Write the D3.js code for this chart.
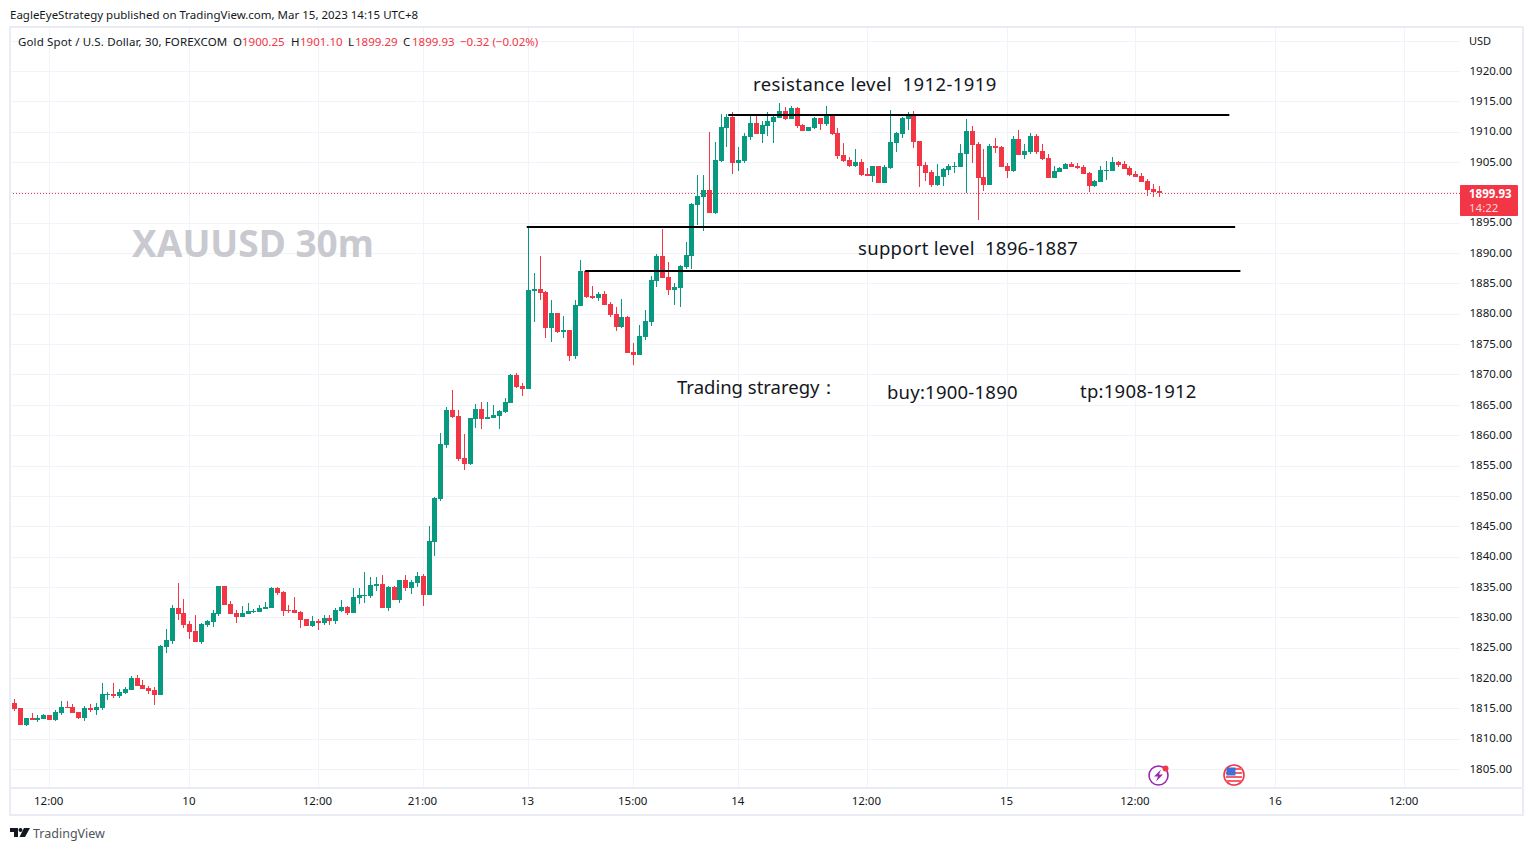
<!DOCTYPE html>
<html>
<head>
<meta charset="utf-8">
<title>XAUUSD 30m</title>
<script src="https://cdn.jsdelivr.net/npm/d3@7"></script>
<style>
    html, body { margin: 0; padding: 0; background: #fff; }
    svg { display: block; }
    text { font-family: "Noto Sans", sans-serif; }
</style>
</head>
<body>
<div id="chartSection"></div>
<script>
const opens = [
    1815.88,1815.06,1812.26,1813.41,1813.08,1813.25,1813.90,1813.08,1814.23,1815.22,
    1815.22,1814.40,1813.41,1815.06,1814.73,1815.06,1817.20,1817.36,1817.03,1817.53,
    1818.02,1820.00,1818.85,1818.35,1818.02,1817.20,1825.11,1826.10,1831.53,1830.71,
    1828.90,1827.74,1825.93,1828.73,1829.23,1830.54,1835.16,1832.19,1830.71,1830.05,
    1830.54,1830.87,1830.87,1831.37,1831.53,1834.83,1834.17,1831.20,1831.20,1830.87,
    1829.72,1828.57,1829.39,1829.06,1829.89,1829.39,1831.04,1831.70,1830.71,1833.18,
    1833.51,1833.51,1835.16,1835.49,1831.53,1834.99,1832.85,1836.15,1834.83,1835.65,
    1836.80,1833.67,1842.40,1849.49,1858.38,1864.15,1863.16,1856.24,1855.25,1862.67,
    1864.31,1862.67,1862.83,1863.16,1863.82,1865.30,1869.91,1868.10,1867.61,1883.75,
    1884.08,1883.59,1877.66,1880.13,1877.00,1877.33,1873.04,1881.28,1887.05,1882.93,
    1882.60,1883.26,1881.61,1879.96,1877.82,1879.47,1873.70,1873.21,1876.18,1878.65,
    1885.40,1889.52,1886.06,1883.92,1884.25,1887.71,1889.52,1897.93,1899.25,1900.40,
    1896.61,1905.18,1910.61,1912.43,1904.85,1905.18,1909.13,1911.44,1909.62,1910.94,
    1911.60,1912.26,1913.41,1912.10,1913.91,1911.11,1910.12,1910.61,1912.26,1911.27,
    1912.59,1909.79,1906.17,1905.34,1904.35,1905.01,1903.04,1902.71,1904.35,1901.55,
    1904.02,1908.14,1909.62,1912.09,1912.75,1908.47,1904.51,1903.36,1901.22,1902.53,
    1903.69,1904.18,1904.18,1906.32,1910.11,1907.97,1902.53,1901.22,1907.64,1907.48,
    1904.35,1903.52,1908.80,1906.16,1906.65,1909.29,1906.82,1905.67,1902.37,1903.36,
    1903.85,1904.68,1904.35,1904.18,1903.19,1901.05,1901.71,1903.52,1903.52,1905.01,
    1904.68,1904.02,1903.03,1902.70,1901.88,1900.56,1900.25
];
const highs = [
    1816.54,1815.06,1813.41,1814.23,1813.90,1814.07,1813.90,1814.73,1816.21,1816.21,
    1815.72,1814.40,1815.39,1815.72,1815.88,1819.18,1817.69,1819.18,1818.19,1818.52,
    1820.33,1820.49,1819.67,1818.68,1818.52,1825.44,1828.07,1832.03,1835.65,1833.01,
    1829.39,1830.38,1829.06,1829.56,1831.20,1835.16,1835.16,1832.69,1831.20,1831.86,
    1832.36,1831.37,1832.03,1832.52,1834.99,1834.99,1834.33,1832.03,1833.34,1831.04,
    1829.72,1830.21,1829.72,1830.38,1830.38,1831.53,1832.85,1831.86,1834.83,1834.83,
    1837.46,1836.64,1836.64,1836.97,1835.16,1835.16,1836.15,1836.97,1836.15,1837.46,
    1837.13,1845.04,1849.82,1860.36,1864.64,1867.44,1864.15,1860.19,1862.83,1865.14,
    1865.47,1865.47,1864.97,1864.15,1866.13,1870.08,1870.24,1868.60,1894.46,1886.72,
    1889.52,1883.75,1882.27,1880.13,1879.63,1877.33,1882.27,1888.86,1887.21,1884.58,
    1883.59,1883.75,1881.94,1881.12,1882.44,1879.63,1875.19,1878.15,1880.62,1886.22,
    1889.85,1893.97,1888.53,1885.07,1888.04,1891.83,1898.25,1902.87,1902.87,1909.95,
    1908.31,1912.92,1912.92,1913.25,1907.48,1909.79,1912.59,1912.59,1911.77,1913.25,
    1912.76,1914.73,1914.07,1914.24,1914.07,1911.27,1910.78,1912.43,1912.26,1914.24,
    1912.76,1910.61,1908.14,1905.84,1907.15,1905.51,1904.02,1904.35,1904.35,1904.52,
    1913.58,1909.95,1912.43,1913.24,1913.41,1908.47,1905.01,1903.69,1904.68,1904.02,
    1904.68,1905.01,1907.97,1912.09,1910.94,1908.30,1907.15,1907.97,1908.96,1907.64,
    1904.84,1909.29,1910.28,1907.97,1909.78,1909.62,1907.97,1906.32,1904.35,1904.18,
    1904.84,1905.01,1904.84,1904.51,1903.36,1902.04,1904.35,1905.17,1905.83,1905.17,
    1905.17,1904.35,1903.52,1903.19,1902.20,1901.38,1901.10
];
const lows = [
    1814.56,1812.26,1812.09,1813.08,1812.75,1813.25,1813.08,1812.92,1813.90,1815.06,
    1814.23,1813.25,1812.92,1814.40,1813.90,1814.73,1816.38,1816.71,1816.71,1817.36,
    1818.02,1818.68,1818.19,1817.36,1815.55,1817.20,1824.12,1825.60,1829.56,1828.24,
    1826.43,1825.93,1825.60,1828.40,1828.40,1830.21,1832.03,1830.54,1829.06,1830.05,
    1830.54,1830.71,1830.87,1831.37,1831.53,1833.67,1830.21,1830.71,1830.71,1828.24,
    1828.57,1828.40,1827.91,1828.73,1828.73,1828.90,1830.87,1830.38,1830.71,1832.19,
    1832.36,1833.18,1834.33,1831.53,1831.04,1832.85,1832.36,1834.33,1833.84,1834.99,
    1831.86,1833.67,1840.10,1849.16,1857.89,1862.83,1855.75,1854.26,1855.09,1861.18,
    1861.02,1862.67,1862.83,1861.02,1863.65,1865.30,1867.77,1866.45,1867.61,1878.65,
    1882.27,1876.01,1875.35,1876.83,1876.01,1872.22,1872.55,1881.28,1882.60,1882.44,
    1882.11,1881.45,1879.47,1877.16,1877.66,1873.54,1871.56,1873.21,1875.68,1877.99,
    1884.41,1885.89,1883.09,1881.45,1881.12,1887.38,1887.38,1894.63,1893.64,1896.61,
    1896.45,1905.01,1907.48,1903.04,1903.53,1904.85,1908.64,1909.62,1908.14,1909.30,
    1908.14,1912.26,1911.93,1912.10,1910.61,1910.12,1910.12,1910.45,1910.28,1910.94,
    1909.46,1905.51,1905.01,1904.19,1904.19,1902.71,1902.71,1901.72,1901.55,1901.55,
    1903.86,1906.66,1908.97,1910.28,1907.31,1900.89,1901.88,1900.89,1901.05,1901.05,
    1902.86,1903.19,1904.18,1899.90,1904.84,1895.45,1900.23,1901.22,1906.49,1904.18,
    1902.37,1903.36,1906.16,1905.50,1906.32,1906.32,1905.34,1902.37,1902.37,1903.36,
    1903.85,1904.18,1903.85,1903.03,1900.06,1900.89,1901.71,1902.04,1903.52,1904.18,
    1903.85,1902.70,1902.53,1901.71,1899.40,1899.24,1899.29
];
const closes = [
    1814.89,1812.26,1813.41,1813.08,1813.41,1813.90,1813.08,1814.40,1815.22,1815.06,
    1814.23,1813.41,1815.06,1814.73,1815.22,1817.36,1817.36,1817.03,1817.69,1818.19,
    1820.00,1818.68,1818.19,1817.86,1817.20,1825.27,1826.26,1831.53,1830.54,1828.73,
    1827.58,1825.93,1828.90,1829.39,1830.71,1835.16,1832.03,1830.54,1830.05,1830.71,
    1831.04,1831.04,1831.53,1831.70,1834.83,1834.00,1831.04,1831.04,1830.71,1829.56,
    1828.57,1829.39,1829.06,1829.89,1829.39,1831.20,1831.70,1830.71,1833.34,1833.67,
    1833.67,1835.32,1835.49,1831.53,1834.99,1832.85,1836.15,1834.83,1835.82,1836.80,
    1833.67,1842.57,1849.65,1858.55,1864.15,1863.00,1856.08,1855.25,1862.83,1864.31,
    1862.67,1863.00,1863.32,1863.98,1865.47,1869.91,1867.94,1867.61,1883.92,1884.08,
    1883.42,1877.66,1880.13,1877.00,1877.33,1873.04,1881.45,1887.05,1882.76,1882.60,
    1883.26,1881.45,1879.80,1877.82,1879.47,1873.54,1873.21,1876.34,1878.81,1885.57,
    1889.52,1885.89,1883.92,1884.41,1887.87,1889.68,1898.09,1899.41,1900.40,1896.61,
    1905.34,1910.78,1912.43,1904.85,1905.34,1909.30,1911.44,1909.62,1911.11,1911.77,
    1912.43,1913.41,1912.10,1913.91,1910.94,1910.12,1910.78,1912.26,1911.27,1912.59,
    1909.62,1906.00,1905.18,1904.35,1905.01,1902.87,1902.71,1904.35,1901.55,1904.19,
    1908.31,1909.79,1912.26,1912.75,1908.30,1904.35,1903.19,1901.22,1902.70,1903.85,
    1904.35,1904.35,1906.49,1910.11,1907.81,1902.37,1901.22,1907.64,1907.31,1904.18,
    1903.52,1908.80,1906.16,1906.82,1909.29,1906.65,1905.50,1902.37,1903.52,1904.02,
    1904.68,1904.18,1904.02,1903.03,1901.05,1901.88,1903.69,1903.69,1905.01,1904.51,
    1903.85,1902.86,1902.53,1901.71,1900.39,1900.06,1899.93
];

// time axis: bar index and its label
const timeTickBars = [6, 30, 52, 70, 88, 106, 124, 146, 170, 192, 216, 238];
const timeTickLabels = ["12:00", "10", "12:00", "21:00", "13", "15:00", "14", "12:00", "15", "12:00", "16", "12:00"];
const priceTicks = d3.range(1805, 1921, 5);
const gridPrices = d3.range(1805, 1926, 5);

// hand drawn levels: start bar, end bar, price
const levelStarts = [122.3, 87.8, 97.8];
const levelEnds = [208.1, 209.1, 210];
const levelPrices = [1912.75, 1894.3, 1887.05];

const lastPrice = 1899.93;
const upColor = "#089981";
const downColor = "#F23645";
const gridColor = "#f0f3fa";
const textColor = "#131722";

/**
 * Proportions of the SVG
 */
let svgWidth = 1533;
let svgHeight = 851;

let paneLeft = 10;
let paneRight = 1460;
let paneTop = 28;
let paneBottom = 788;
let frameRight = 1523;
let frameBottom = 815;

const xScale = d3.scaleLinear().domain([0, 238]).range([14, 1403.92]);
const yScale = d3.scaleLinear().domain([1805, 1920]).range([769, 71]);

const svg = d3.select("#chartSection")
    .append("svg")
    .attr("width", svgWidth)
    .attr("height", svgHeight);

drawGrid();
drawWatermark();
drawPriceLine();
drawCandles();
drawLevels();
drawAxes();
drawFrame();
drawTexts();
drawEventIcons();
drawLogo();

function drawGrid() {
    const grid = svg.append("g").attr("shape-rendering", "crispEdges");
    grid.selectAll(".hGrid")
        .data(gridPrices)
        .enter()
        .append("line")
        .attr("x1", paneLeft)
        .attr("x2", paneRight)
        .attr("y1", d => Math.round(yScale(d)) + 0.5)
        .attr("y2", d => Math.round(yScale(d)) + 0.5)
        .attr("stroke", gridColor);
    grid.selectAll(".vGrid")
        .data(timeTickBars)
        .enter()
        .append("line")
        .attr("x1", d => Math.round(xScale(d)) + 0.5)
        .attr("x2", d => Math.round(xScale(d)) + 0.5)
        .attr("y1", paneTop)
        .attr("y2", paneBottom)
        .attr("stroke", gridColor);
}

function drawWatermark() {
    svg.append("text")
        .attr("x", 132)
        .attr("y", 257)
        .attr("font-size", 37)
        .attr("font-weight", "bold")
        .attr("fill", "#c9c9d0")
        .text("XAUUSD 30m");
}

function drawPriceLine() {
    svg.append("line")
        .attr("x1", paneLeft)
        .attr("x2", paneRight)
        .attr("y1", Math.round(yScale(lastPrice)) + 0.5)
        .attr("y2", Math.round(yScale(lastPrice)) + 0.5)
        .attr("stroke", downColor)
        .attr("stroke-dasharray", "1 2");
}

/**
 * Draws the candles, wick first and then the body
 */
function drawCandles() {
    const candles = svg.append("g")
        .attr("shape-rendering", "crispEdges")
        .selectAll(".candle")
        .data(opens.map((_, i) => i))
        .enter()
        .append("g");

    candles.append("rect")
        .attr("x", i => Math.round(xScale(i)))
        .attr("width", 1)
        .attr("y", i => yScale(highs[i]))
        .attr("height", i => yScale(lows[i]) - yScale(highs[i]))
        .attr("fill", i => closes[i] >= opens[i] ? upColor : downColor);

    candles.append("rect")
        .attr("x", i => Math.round(xScale(i)) - 2)
        .attr("width", 5)
        .attr("y", i => yScale(Math.max(opens[i], closes[i])))
        .attr("height", i => Math.max(1, Math.abs(yScale(opens[i]) - yScale(closes[i]))))
        .attr("fill", i => closes[i] >= opens[i] ? upColor : downColor);
}

function drawLevels() {
    svg.append("g")
        .selectAll("line")
        .data(levelPrices)
        .enter()
        .append("line")
        .attr("x1", (_, i) => xScale(levelStarts[i]))
        .attr("x2", (_, i) => xScale(levelEnds[i]))
        .attr("y1", d => yScale(d))
        .attr("y2", d => yScale(d))
        .attr("stroke", "#000")
        .attr("stroke-width", 2);
}

function drawAxes() {
    const yAxis = d3.axisRight(yScale)
        .tickValues(priceTicks)
        .tickSize(0)
        .tickPadding(0)
        .tickFormat(d => d.toFixed(2));
    const yGroup = svg.append("g")
        .attr("transform", `translate(1469.5, -0.5)`)
        .call(yAxis);
    yGroup.select(".domain").remove();
    yGroup.selectAll("text")
        .attr("font-size", 11.5)
        .attr("fill", textColor);

    const xAxis = d3.axisBottom(xScale)
        .tickValues(timeTickBars)
        .tickSize(0)
        .tickPadding(0)
        .tickFormat((_, i) => timeTickLabels[i]);
    const xGroup = svg.append("g")
        .attr("transform", `translate(-0.8, 797)`)
        .call(xAxis);
    xGroup.select(".domain").remove();
    xGroup.selectAll("text")
        .attr("font-size", 11.5)
        .attr("fill", textColor);
}

function drawFrame() {
    const frame = svg.append("g")
        .attr("fill", "none")
        .attr("stroke", "#e9ecf4")
        .attr("stroke-width", 1.5)
        .attr("shape-rendering", "crispEdges");
    frame.append("rect")
        .attr("x", paneLeft)
        .attr("y", paneTop - 1)
        .attr("width", frameRight - paneLeft)
        .attr("height", frameBottom - paneTop + 1);
    frame.append("line")
        .attr("x1", paneLeft)
        .attr("x2", frameRight)
        .attr("y1", paneBottom)
        .attr("y2", paneBottom);

    // last price tag
    svg.append("rect")
        .attr("x", paneRight)
        .attr("y", 185)
        .attr("width", 58)
        .attr("height", 31)
        .attr("rx", 1)
        .attr("fill", downColor);
    svg.append("text")
        .attr("x", 1469)
        .attr("y", 198)
        .attr("font-size", 11.5)
        .attr("font-weight", "bold")
        .attr("fill", "#fff")
        .text(lastPrice.toFixed(2));
    svg.append("text")
        .attr("x", 1469)
        .attr("y", 212)
        .attr("font-size", 11.5)
        .attr("fill", "#fcd6da")
        .text("14:22");
}

function drawTexts() {
    svg.append("text")
        .attr("x", 10)
        .attr("y", 19)
        .attr("font-size", 11.5)
        .attr("fill", textColor)
        .text("EagleEyeStrategy published on TradingView.com, Mar 15, 2023 14:15 UTC+8");

    svg.append("text")
        .attr("x", 1469)
        .attr("y", 45)
        .attr("font-size", 11)
        .attr("fill", textColor)
        .text("USD");

    // legend row
    const legend = [
        [18, "Gold Spot / U.S. Dollar, 30, FOREXCOM", textColor, 0.14],
        [233, "O", textColor, 0], [242, "1900.25", downColor, 0],
        [291, "H", textColor, 0], [300, "1901.10", downColor, 0],
        [348, "L", textColor, 0], [355, "1899.29", downColor, 0],
        [403, "C", textColor, 0], [412, "1899.93", downColor, 0],
        [460, "\u22120.32 (\u22120.02%)", downColor, 0]
    ];
    svg.append("g")
        .selectAll("text")
        .data(legend)
        .enter()
        .append("text")
        .attr("x", d => d[0])
        .attr("y", 46)
        .attr("font-size", 11.5)
        .attr("letter-spacing", d => d[3])
        .attr("fill", d => d[2])
        .text(d => d[1]);

    // notes on the chart
    const notes = [
        [753, 91, "resistance level  1912-1919", 0.42],
        [858, 255, "support level  1896-1887", 0.3],
        [677, 394, "Trading straregy\uFF1A", 0],
        [887, 399, "buy:1900-1890", 0.23],
        [1080, 398, "tp:1908-1912", 0.25]
    ];
    svg.append("g")
        .selectAll("text")
        .data(notes)
        .enter()
        .append("text")
        .attr("x", d => d[0])
        .attr("y", d => d[1])
        .attr("font-size", 18.5)
        .attr("letter-spacing", d => d[3])
        .attr("fill", "#131722")
        .style("white-space", "pre")
        .text(d => d[2]);
}

function drawEventIcons() {
    // earnings style icon
    const bolt = svg.append("g").attr("transform", "translate(1158.5, 775.5)");
    bolt.append("circle")
        .attr("r", 9.5)
        .attr("fill", "#fff")
        .attr("stroke", "#9c27b0")
        .attr("stroke-width", 1.6);
    bolt.append("path")
        .attr("d", "M2.5,-6 L-4.5,1 L-0.5,1 L-2.5,6 L4.5,-1 L0.5,-1 Z")
        .attr("fill", "#9c27b0");
    bolt.append("circle")
        .attr("cx", 7)
        .attr("cy", -7)
        .attr("r", 3)
        .attr("fill", downColor);

    // US flag icon
    const flag = svg.append("g").attr("transform", "translate(1234, 775)");
    flag.append("circle")
        .attr("r", 10)
        .attr("fill", "#fff")
        .attr("stroke", downColor)
        .attr("stroke-width", 1.6);
    [-6, -2, 2, 6].forEach(stripe => {
        flag.append("rect")
            .attr("x", -8)
            .attr("y", stripe - 1)
            .attr("width", 16)
            .attr("height", 2)
            .attr("fill", "#f4606c");
    });
    flag.append("rect")
        .attr("x", -7.5)
        .attr("y", -7.5)
        .attr("width", 9)
        .attr("height", 8)
        .attr("fill", "#3f6fd8");
}

function drawLogo() {
    const logo = svg.append("g")
        .attr("transform", "translate(10, 828)")
        .attr("fill", "#131722");
    logo.append("path").attr("d", "M0,0 H8 V9 H4 V4 H0 Z");
    logo.append("circle").attr("cx", 10.5).attr("cy", 2).attr("r", 2);
    logo.append("path").attr("d", "M14,0 H20 L15,9 H9.5 Z");
    svg.append("text")
        .attr("x", 33)
        .attr("y", 838)
        .attr("font-size", 12.5)
        .attr("fill", "#50535e")
        .text("TradingView");
}
</script>
</body>
</html>
